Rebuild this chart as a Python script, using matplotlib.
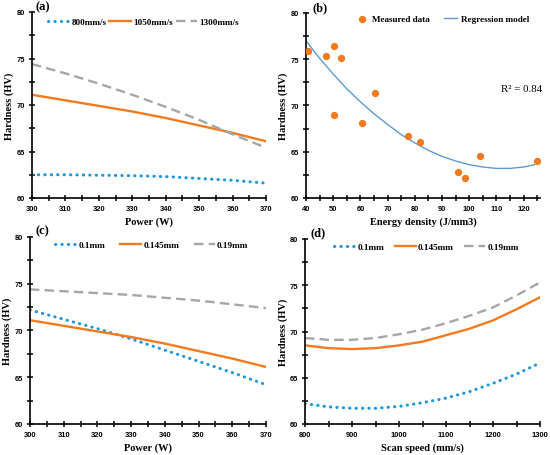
import matplotlib
matplotlib.use("Agg")
import matplotlib.pyplot as plt
from matplotlib.ticker import MultipleLocator

# ---------------- data ----------------
power = [300, 310, 320, 330, 340, 350, 360, 370]
a_800 = [62.5, 62.5, 62.45, 62.4, 62.3, 62.1, 61.9, 61.6]
a_1050 = [71.1, 70.5, 69.9, 69.3, 68.6, 67.8, 67.0, 66.1]
a_1300 = [74.4, 73.4, 72.3, 71.1, 69.8, 68.4, 66.85, 65.4]

c_010 = [72.2, 71.2, 70.2, 69.1, 67.9, 66.7, 65.5, 64.2]
c_0145 = [71.1, 70.5, 69.9, 69.3, 68.6, 67.8, 67.0, 66.1]
c_019 = [74.4, 74.2, 74.0, 73.8, 73.5, 73.2, 72.8, 72.4]

speed = [800, 850, 900, 950, 1000, 1050, 1100, 1150, 1200, 1250, 1300]
d_010 = [62.2, 61.85, 61.7, 61.7, 61.9, 62.3, 62.8, 63.5, 64.4, 65.4, 66.6]
d_0145 = [68.5, 68.2, 68.1, 68.2, 68.5, 68.9, 69.6, 70.3, 71.2, 72.4, 73.7]
d_019 = [69.3, 69.1, 69.1, 69.3, 69.7, 70.2, 70.9, 71.7, 72.6, 73.9, 75.3]

energy = [40.6, 47.4, 50.2, 50.2, 52.8, 60.4, 65.2, 77.5, 82.0, 95.9, 98.3, 103.9, 124.9]
hardness = [75.9, 75.4, 76.45, 69.0, 75.1, 68.15, 71.3, 66.7, 66.1, 62.85, 62.2, 64.5, 63.95]
reg_x = [40, 45, 50, 55, 60, 65, 70, 75, 80, 85, 90, 95, 100, 105, 110, 115, 120, 124]
reg_y = [77.0, 75.1, 73.4, 71.8, 70.4, 69.1, 67.95, 66.85, 65.95, 65.15, 64.5, 64.0, 63.6, 63.35, 63.2, 63.2, 63.35, 63.6]

# ---------------- style ----------------
BLUE = "#1E96DC"
ORANGE = "#F47A20"
GRAY = "#A6A6A6"
LBLUE = "#5B9BD5"
SERIF = "Liberation Serif"
SANS = "Liberation Sans"
LEGFONT = {"family": SERIF, "weight": "bold", "size": 6.6}

fig = plt.figure(figsize=(5.5, 4.56), dpi=100)

def box(l, t, r, b):
    return [l / 550, 1 - b / 456, (r - l) / 550, (b - t) / 456]

ax_a = fig.add_axes(box(32, 13, 266, 199))
ax_b = fig.add_axes(box(306, 14, 540, 199))
ax_c = fig.add_axes(box(30, 238, 266, 425))
ax_d = fig.add_axes(box(305, 240, 540, 425))

def style(ax, xlabel, xmaj, xmin, ylx):
    for s in ["top", "right"]:
        ax.spines[s].set_visible(False)
    for s in ["left", "bottom"]:
        ax.spines[s].set_linewidth(1.2)
    ax.set_ylim(60, 80)
    ax.yaxis.set_major_locator(MultipleLocator(5))
    ax.yaxis.set_minor_locator(MultipleLocator(2.5))
    ax.xaxis.set_major_locator(MultipleLocator(xmaj))
    ax.xaxis.set_minor_locator(MultipleLocator(xmin))
    ax.tick_params(which="both", direction="inout", length=5, width=1.1, pad=2.5)
    for lab in ax.get_xticklabels() + ax.get_yticklabels():
        lab.set_fontfamily(SANS)
        lab.set_fontsize(5.4)
        lab.set_fontweight("bold")
    ax.set_xlabel(xlabel, fontfamily=SERIF, fontweight="bold", fontsize=7.5)
    ax.set_ylabel("Hardness (HV)", fontfamily=SERIF, fontweight="bold", fontsize=7.5)
    ax.xaxis.set_label_coords(0.5, -0.097)
    ax.yaxis.set_label_coords(ylx, 0.5)

def leg(ax, x0, y0, cs):
    ax.legend(loc="center left", bbox_to_anchor=(x0, y0), ncol=3, frameon=False,
              prop=LEGFONT, handlelength=2.3, handletextpad=0.25, columnspacing=cs,
              borderpad=0, borderaxespad=0)

dot_kw = dict(color=BLUE, linestyle=(0, (0.1, 2.0)), linewidth=2.2, dash_capstyle="round")
sol_kw = dict(color=ORANGE, linewidth=1.7)
das_kw = dict(color=GRAY, linestyle=(0, (4, 2.2)), linewidth=1.7)

# (a)
ax_a.plot(power, a_800, label="800mm/s", **dot_kw)
ax_a.plot(power, a_1050, label="1050mm/s", **sol_kw)
ax_a.plot(power, a_1300, label="1300mm/s", **das_kw)
ax_a.set_xlim(300, 370)
style(ax_a, "Power (W)", 10, 5, -0.079)
leg(ax_a, 0.068, 0.946, 0.35)

# (b)
ax_b.scatter(energy, hardness, s=18, color=ORANGE, zorder=3, label="Measured data")
ax_b.plot(reg_x, reg_y, color=LBLUE, linewidth=1.0, label="Regression model")
ax_b.set_xlim(40, 126)
style(ax_b, "Energy density (J/mm3)", 10, 5, -0.077)
ax_b.legend(loc="center left", bbox_to_anchor=(0.21, 0.967), ncol=2, frameon=False,
            prop=LEGFONT, handlelength=1.4, handletextpad=0.4, columnspacing=1.6,
            borderpad=0, borderaxespad=0)
ax_b.text(119.3, 71.8, "R² = 0.84", fontfamily=SERIF, fontsize=7.8, ha="center", va="center")

# (c)
ax_c.plot(power, c_010, label="0.1mm", **dot_kw)
ax_c.plot(power, c_0145, label="0.145mm", **sol_kw)
ax_c.plot(power, c_019, label="0.19mm", **das_kw)
ax_c.set_xlim(300, 370)
style(ax_c, "Power (W)", 10, 5, -0.076)
leg(ax_c, 0.106, 0.957, 1.6)

# (d)
ax_d.plot(speed, d_010, label="0.1mm", **dot_kw)
ax_d.plot(speed, d_0145, label="0.145mm", **sol_kw)
ax_d.plot(speed, d_019, label="0.19mm", **das_kw)
ax_d.set_xlim(800, 1300)
style(ax_d, "Scan speed (mm/s)", 100, 50, -0.072)
leg(ax_d, 0.123, 0.957, 1.15)

# panel labels
for x, y, t in [(43, 7, "(a)"), (320, 8, "(b)"), (42, 231, "(c)"), (318, 233, "(d)")]:
    fig.text(x / 550, 1 - y / 456, t, fontfamily=SERIF, fontweight="bold", fontsize=9,
             ha="center", va="center")

fig.savefig("out.png", dpi=100)
